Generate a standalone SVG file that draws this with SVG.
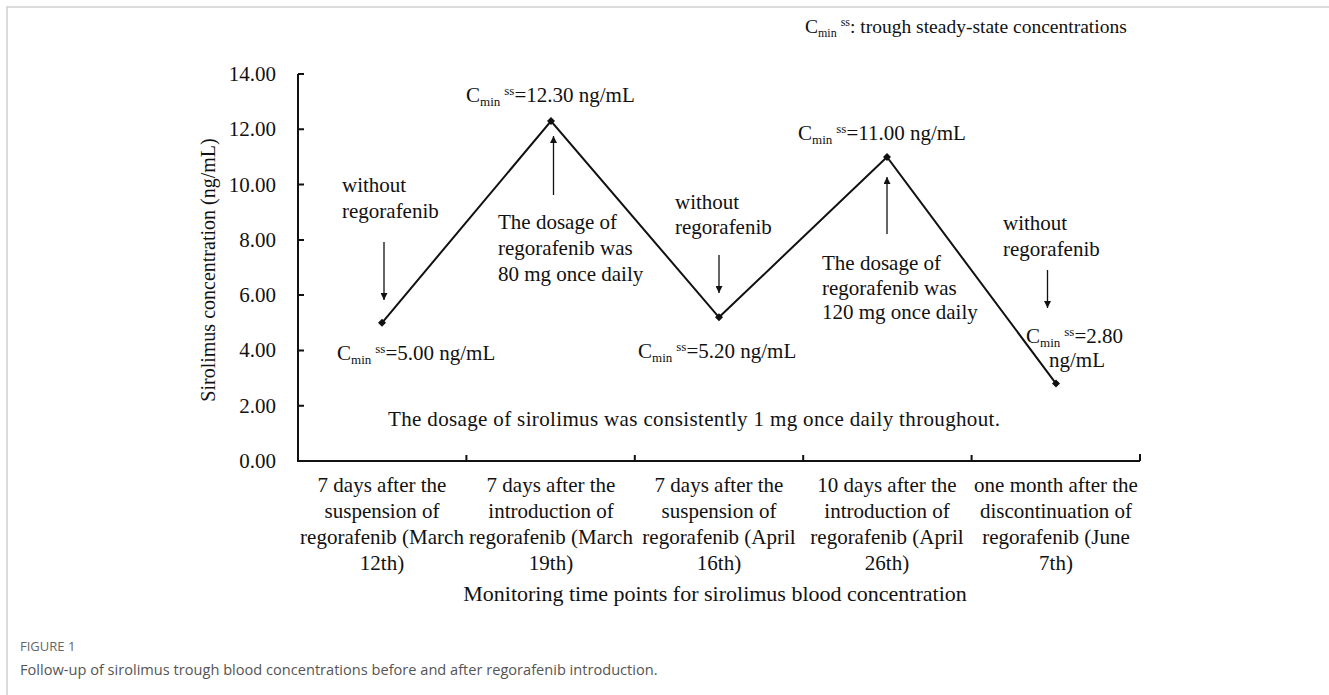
<svg xmlns="http://www.w3.org/2000/svg" width="1329" height="695" viewBox="0 0 1329 695">
<style>
.t{font-family:"Liberation Serif","Times New Roman",serif;font-size:21px;fill:#111}
.s{font-size:13px}
.ax{stroke:#111;stroke-width:2;fill:none}
.ln{stroke:#111;stroke-width:2;fill:none}
.ar{stroke:#111;stroke-width:1.3;fill:none}
.cap1{font-family:"Open Sans","Noto Sans",sans-serif;font-size:13px;fill:#666}
.cap2{font-family:"Open Sans","Noto Sans",sans-serif;font-size:14.6px;fill:#555}
</style>
<defs>
<marker id="ah" viewBox="0 0 10 10" refX="10" refY="5" markerWidth="7" markerHeight="7" markerUnits="userSpaceOnUse" orient="auto">
<path d="M0,0 L10,5 L0,10 Z" fill="#111"/>
</marker>
</defs>
<rect width="1329" height="695" fill="#fff"/>
<path d="M7,695 V7 H1329" stroke="#cfcfcf" stroke-width="1.5" fill="none"/>

<g id="axes">
<path class="ax" d="M298,74 V461 H1140"/>
<path class="ax" d="M298,74 h6 M298,129.3 h6 M298,184.6 h6 M298,239.9 h6 M298,295.1 h6 M298,350.4 h6 M298,405.7 h6"/>
<path class="ax" d="M466.4,461 v-6 M634.8,461 v-6 M803.2,461 v-6 M971.6,461 v-6 M1140,461 v-7"/>
<g class="t" text-anchor="end">
<text x="276" y="81">14.00</text>
<text x="276" y="136.3">12.00</text>
<text x="276" y="191.6">10.00</text>
<text x="276" y="246.9">8.00</text>
<text x="276" y="302.1">6.00</text>
<text x="276" y="357.4">4.00</text>
<text x="276" y="412.7">2.00</text>
<text x="276" y="468">0.00</text>
</g>
<text class="t" style="font-size:20px" transform="translate(215,270) rotate(-90)" text-anchor="middle">Sirolimus concentration (ng/mL)</text>
<g class="t" text-anchor="middle">
<text x="382" y="492">7 days after the</text>
<text x="382" y="518">suspension of</text>
<text x="382" y="544">regorafenib (March</text>
<text x="382" y="570">12th)</text>
<text x="551" y="492">7 days after the</text>
<text x="551" y="518">introduction of</text>
<text x="551" y="544">regorafenib (March</text>
<text x="551" y="570">19th)</text>
<text x="719" y="492">7 days after the</text>
<text x="719" y="518">suspension of</text>
<text x="719" y="544">regorafenib (April</text>
<text x="719" y="570">16th)</text>
<text x="887" y="492">10 days after the</text>
<text x="887" y="518">introduction of</text>
<text x="887" y="544">regorafenib (April</text>
<text x="887" y="570">26th)</text>
<text x="1056" y="492">one month after the</text>
<text x="1056" y="518">discontinuation of</text>
<text x="1056" y="544">regorafenib (June</text>
<text x="1056" y="570">7th)</text>
<text x="715" y="601" style="font-size:22px">Monitoring time points for sirolimus blood concentration</text>
</g>
</g>

<g id="connectors">
<polyline class="ln" points="382,322.8 551,121 719,317.3 887,157 1056,383.6"/>
<path class="ar" d="M384,242 V300" marker-end="url(#ah)"/>
<path class="ar" d="M553.5,195 V136" marker-end="url(#ah)"/>
<path class="ar" d="M719,255 V293" marker-end="url(#ah)"/>
<path class="ar" d="M887,234 V177" marker-end="url(#ah)"/>
<path class="ar" d="M1047.5,270 V308" marker-end="url(#ah)"/>
</g>

<g id="p1"><path d="M382,318.8 l4,4 l-4,4 l-4,-4 Z" fill="#111"/>
<text class="t" x="337" y="360">C<tspan class="s" dy="4">min</tspan><tspan class="s" dx="4" dy="-11">ss</tspan><tspan dy="7">=5.00 ng/mL</tspan></text>
<text class="t" x="342" y="192">without</text><text class="t" x="342" y="218">regorafenib</text></g>

<g id="p2"><path d="M551,117 l4,4 l-4,4 l-4,-4 Z" fill="#111"/>
<text class="t" x="466" y="102">C<tspan class="s" dy="4">min</tspan><tspan class="s" dx="4" dy="-11">ss</tspan><tspan dy="7">=12.30 ng/mL</tspan></text>
<text class="t" x="498" y="229">The dosage of</text><text class="t" x="498" y="255">regorafenib was</text><text class="t" x="498" y="281">80 mg once daily</text></g>

<g id="p3"><path d="M719,313.3 l4,4 l-4,4 l-4,-4 Z" fill="#111"/>
<text class="t" x="638" y="358">C<tspan class="s" dy="4">min</tspan><tspan class="s" dx="4" dy="-11">ss</tspan><tspan dy="7">=5.20 ng/mL</tspan></text>
<text class="t" x="675" y="209">without</text><text class="t" x="675" y="234">regorafenib</text></g>

<g id="p4"><path d="M887,153 l4,4 l-4,4 l-4,-4 Z" fill="#111"/>
<text class="t" x="798" y="140">C<tspan class="s" dy="4">min</tspan><tspan class="s" dx="4" dy="-11">ss</tspan><tspan dy="7">=11.00 ng/mL</tspan></text>
<text class="t" x="822" y="270">The dosage of</text><text class="t" x="822" y="295">regorafenib was</text><text class="t" x="822" y="319">120 mg once daily</text></g>

<g id="p5"><path d="M1056,379.6 l4,4 l-4,4 l-4,-4 Z" fill="#111"/>
<text class="t" x="1026" y="343">C<tspan class="s" dy="4">min</tspan><tspan class="s" dx="4" dy="-11">ss</tspan><tspan dy="7">=2.80</tspan></text>
<text class="t" x="1049" y="367">ng/mL</text>
<text class="t" x="1003" y="230">without</text><text class="t" x="1003" y="256">regorafenib</text></g>

<g id="notes">
<text class="t" style="font-size:19.5px" x="805" y="33">C<tspan class="s" style="font-size:12px" dy="4">min</tspan><tspan class="s" style="font-size:12px" dx="4" dy="-11">ss</tspan><tspan dy="7">: trough steady-state concentrations</tspan></text>
<text class="t" x="388" y="426" textLength="612" lengthAdjust="spacing">The dosage of sirolimus was consistently 1 mg once daily throughout.</text>
</g>

<g id="caption">
<text class="cap1" x="20" y="651">FIGURE 1</text>
<text class="cap2" x="20" y="675">Follow-up of sirolimus trough blood concentrations before and after regorafenib introduction.</text>
</g>
</svg>
